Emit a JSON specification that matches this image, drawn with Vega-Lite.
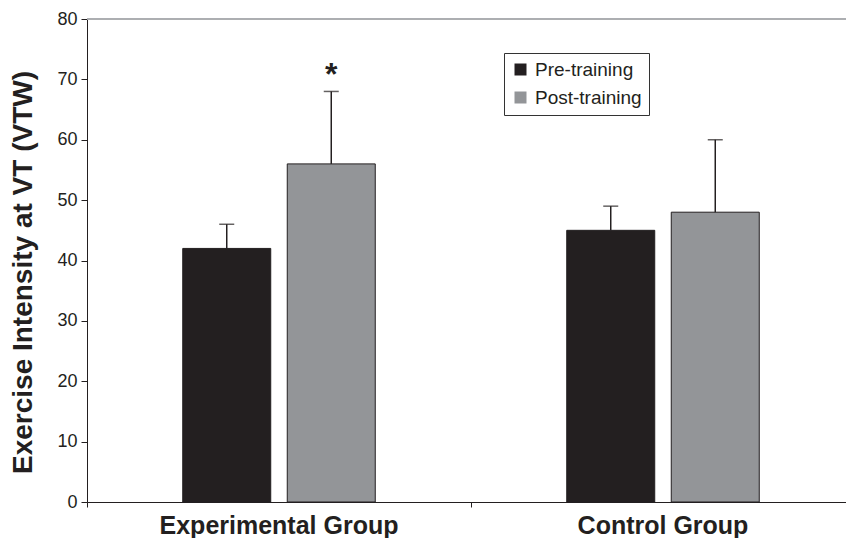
{
  "$schema": "https://vega.github.io/schema/vega-lite/v6.json",
  "width": 759,
  "height": 483,
  "autosize": {"type": "none"},
  "padding": {"left": 87, "top": 19, "right": 0, "bottom": 36},
  "background": "white",
  "config": {
    "view": {"stroke": null},
    "font": "Liberation Sans",
    "axis": {"domainColor": "#231f20", "tickColor": "#231f20", "labelColor": "#231f20", "titleColor": "#231f20", "grid": false, "domainWidth": 1, "tickWidth": 1}
  },
  "data": {"values": [
    {"group": "Experimental Group", "phase": "Pre-training", "mean": 42, "upper": 46, "sig": ""},
    {"group": "Experimental Group", "phase": "Post-training", "mean": 56, "upper": 68, "sig": "*"},
    {"group": "Control Group", "phase": "Pre-training", "mean": 45, "upper": 49, "sig": ""},
    {"group": "Control Group", "phase": "Post-training", "mean": 48, "upper": 60, "sig": ""}
  ]},
  "layer": [
    {
      "mark": {"type": "rule", "color": "#a7a9ac", "strokeWidth": 1},
      "encoding": {"y": {"datum": 80, "type": "quantitative"}}
    },
    {
      "mark": {"type": "bar", "stroke": "#231f20", "strokeWidth": 1},
      "encoding": {
        "x": {"field": "group", "type": "nominal", "sort": ["Experimental Group", "Control Group"],
              "scale": {"range": [0, 768], "paddingInner": 0, "paddingOuter": 0},
              "axis": {"title": null, "bandPosition": 0, "labelAngle": 0, "labelFontSize": 25, "labelFontWeight": "bold", "labelPadding": 6, "tickSize": 5, "labelLimit": 0, "labelOverlap": false, "labelBound": false, "labelColor": "#231f20"}},
        "xOffset": {"field": "phase", "type": "nominal", "sort": ["Pre-training", "Post-training"], "scale": {"paddingInner": 0.158, "paddingOuter": 0.916}},
        "y": {"field": "mean", "type": "quantitative", "scale": {"domain": [0, 80], "nice": false},
              "axis": {"values": [0, 10, 20, 30, 40, 50, 60, 70, 80], "title": "Exercise Intensity at VT (VTW)", "titleFontSize": 28, "titleFontWeight": "bold", "titlePadding": 19, "titleY": 253, "labelFontSize": 18, "labelPadding": 4, "tickSize": 6}},
        "color": {"field": "phase", "type": "nominal", "sort": ["Pre-training", "Post-training"],
                  "scale": {"domain": ["Pre-training", "Post-training"], "range": ["#231f20", "#939598"]},
                  "legend": {"orient": "none", "legendX": 417, "legendY": 34, "title": null, "strokeColor": "#333333", "fillColor": "white", "padding": 7, "symbolType": "square", "symbolSize": 144, "symbolStrokeWidth": 0, "labelFontSize": 19, "rowPadding": 8, "labelOffset": 5, "labelColor": "#231f20"}}
      }
    },
    {
      "mark": {"type": "rule", "color": "#231f20", "strokeWidth": 1.5},
      "encoding": {
        "x": {"field": "group", "type": "nominal", "sort": ["Experimental Group", "Control Group"]},
        "xOffset": {"field": "phase", "type": "nominal", "sort": ["Pre-training", "Post-training"]},
        "y": {"field": "mean", "type": "quantitative"},
        "y2": {"field": "upper"}
      }
    },
    {
      "mark": {"type": "tick", "color": "#231f20", "thickness": 1.5, "size": 15},
      "encoding": {
        "x": {"field": "group", "type": "nominal", "sort": ["Experimental Group", "Control Group"]},
        "xOffset": {"field": "phase", "type": "nominal", "sort": ["Pre-training", "Post-training"]},
        "y": {"field": "upper", "type": "quantitative"}
      }
    },
    {
      "mark": {"type": "text", "fontSize": 32, "fontWeight": "bold", "baseline": "alphabetic", "dy": -6, "color": "#231f20"},
      "encoding": {
        "x": {"field": "group", "type": "nominal", "sort": ["Experimental Group", "Control Group"]},
        "xOffset": {"field": "phase", "type": "nominal", "sort": ["Pre-training", "Post-training"]},
        "y": {"field": "upper", "type": "quantitative"},
        "text": {"field": "sig"}
      }
    }
  ]
}
